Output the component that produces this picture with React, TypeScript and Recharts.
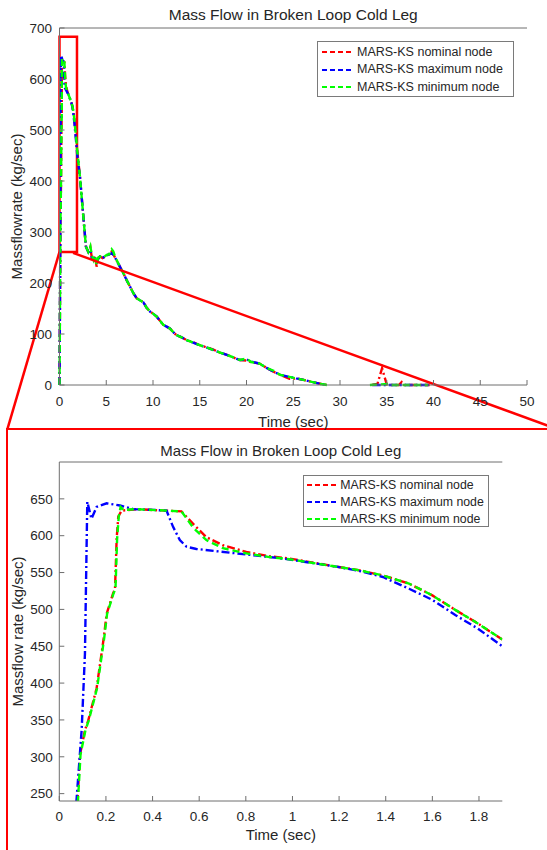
import React from 'react';
import { LineChart, Line, XAxis, YAxis, ReferenceArea, ReferenceLine, Legend } from 'recharts';

const FONT = '"Liberation Sans", Arial, Helvetica, sans-serif';
const AXIS_COLOR = '#6e6e6e';
const TEXT_COLOR = '#262626';
const TICK_LEN = 5;

// ---- series meta ----
const seriesNames = ['MARS-KS nominal node', 'MARS-KS maximum node', 'MARS-KS minimum node'];
const seriesColors = ['#FF0000', '#0000FF', '#00FF00'];
const seriesDash = ['8 3 2 3', '8 3 2 3', '7 4'];

// ---- zoomed window (0 - 1.9 s) ----
const zoomNominalT = [0, 0.078, 0.089, 0.11, 0.124, 0.16, 0.191, 0.203, 0.231, 0.239, 0.246, 0.253, 0.267, 0.331, 0.46, 0.524, 0.574, 0.631, 0.702, 0.802, 0.902, 0.988, 1.188, 1.288, 1.388, 1.5, 1.6, 1.7, 1.795, 1.9];
const zoomNominalV = [0, 240, 303, 336, 349, 393, 462, 494, 522, 528, 596, 626, 634, 636, 634, 633, 616, 598, 587, 578, 572, 569, 558, 553, 546, 535, 519, 499, 481, 459];

const zoomMaximumT = [0, 0.074, 0.096, 0.11, 0.12, 0.138, 0.16, 0.203, 0.26, 0.317, 0.403, 0.46, 0.488, 0.517, 0.546, 0.588, 0.674, 0.817, 0.96, 1.188, 1.288, 1.388, 1.5, 1.6, 1.7, 1.795, 1.9];
const zoomMaximumV = [0, 242, 337, 440, 646, 623, 639, 644, 641, 636, 635, 634, 612, 594, 585, 582, 579, 574, 569, 558, 552, 544, 528, 513, 492, 474, 450];

const zoomMinimumT = [0, 0.08, 0.091, 0.112, 0.126, 0.162, 0.193, 0.205, 0.233, 0.241, 0.248, 0.255, 0.263, 0.275, 0.331, 0.46, 0.524, 0.574, 0.631, 0.702, 0.802, 0.902, 0.988, 1.188, 1.288, 1.388, 1.5, 1.6, 1.7, 1.795, 1.9];
const zoomMinimumV = [0, 240, 303, 336, 349, 393, 462, 494, 522, 528, 596, 626, 639, 635, 636, 634, 633, 611, 594, 583, 576, 571, 568, 558, 553, 546, 535, 519, 499, 481, 459];

// ---- long transient (after 1.9 s) ----
const tailT = [2.19, 2.55, 2.83, 3.08, 3.3, 3.45, 3.65, 3.8, 3.97, 4.15, 4.33, 4.6, 5.05, 5.3, 5.58, 5.75, 5.94, 6.4, 6.83, 7.2, 7.54, 7.9, 8.26, 8.6, 8.97, 9.3, 9.68, 10.0, 10.4, 10.7, 11.1, 11.5, 11.8, 12.2, 12.5, 13.0, 13.6, 14.3, 15.0, 15.7, 16.4, 17.1, 17.9, 18.6, 19.3, 20.0, 20.5, 21.4, 22.2, 22.9, 23.6, 24.6, 25.3, 26.1, 27.0, 28.0, 28.6];
const tailNominalV = [408, 330, 271, 261, 270, 250, 245, 252, 232, 248, 252, 249, 254, 256, 262, 256, 250, 234, 219, 205, 193, 180, 170, 166, 163, 152, 144, 140, 134, 127, 118, 114, 111, 103, 98, 94, 88, 84, 78, 74, 70, 64, 59, 54, 49, 48, 45, 42, 33, 26, 20, 12, 13, 10, 6, 2, 0];
const tailMaximumV = [408, 330, 271, 261, 265, 250, 245, 252, 238, 248, 252, 249, 254, 256, 258, 256, 250, 234, 219, 205, 193, 180, 170, 166, 162, 152, 144, 140, 134, 127, 118, 114, 111, 103, 98, 94, 88, 83, 78, 74, 69, 64, 59, 54, 49, 50, 46, 42, 33, 26, 20, 16, 13, 10, 6, 2, 0];
const tailMinimumV = [408, 330, 271, 261, 272, 255, 245, 254, 236, 250, 252, 249, 255, 256, 266, 262, 252, 234, 219, 205, 193, 180, 170, 166, 162, 152, 144, 140, 134, 127, 118, 114, 111, 103, 98, 94, 88, 83, 78, 74, 69, 64, 59, 54, 49, 52, 45, 42, 33, 28, 20, 16, 13, 10, 6, 2, 0];

const lateNominalT = [30.5, 33.4, 34.0, 34.5, 35.0, 35.5, 36.3, 36.6, 36.9, 39.6];
const lateNominalV = [null, 0, 2, 33, 1, 0, 0, 6, 0, 0];
const lateMaximumT = [30.5, 33.5, 39.8];
const lateMaximumV = [null, 0, 0];
const lateMinimumT = [30.5, 33.2, 35.2, 35.5, 39.4];
const lateMinimumV = [null, 0, 2, 0, 0];

// ---- axes ----
const fullTicksX = [0, 5, 10, 15, 20, 25, 30, 35, 40, 45, 50];
const fullTicksY = [0, 100, 200, 300, 400, 500, 600, 700];
const zoomTicksX = [0, 0.2, 0.4, 0.6, 0.8, 1, 1.2, 1.4, 1.6, 1.8];
const zoomTicksY = [250, 300, 350, 400, 450, 500, 550, 600, 650];

type Row = { t: number; v: number | null };
const rows = (t: number[], v: (number | null)[]): Row[] => t.map((x, i) => ({ t: x, v: v[i] }));

const zoomData = [
  rows(zoomNominalT, zoomNominalV),
  rows(zoomMaximumT, zoomMaximumV),
  rows(zoomMinimumT, zoomMinimumV),
];
const fullData = [
  [...rows(zoomNominalT, zoomNominalV), ...rows(tailT, tailNominalV), ...rows(lateNominalT, lateNominalV)],
  [...rows(zoomMaximumT, zoomMaximumV), ...rows(tailT, tailMaximumV), ...rows(lateMaximumT, lateMaximumV)],
  [...rows(zoomMinimumT, zoomMinimumV), ...rows(tailT, tailMinimumV), ...rows(lateMinimumT, lateMinimumV)],
];

// ---- tick shapes (MATLAB style inward ticks) ----
const makeBottomTick = (gap: number, fs: number) => (props: any) => {
  const { x, y, payload } = props;
  const axisY = y - gap;
  return (
    <g>
      <line x1={x} x2={x} y1={axisY} y2={axisY - TICK_LEN} stroke={AXIS_COLOR} strokeWidth={1} />
      <text x={x} y={y} dy="0.35em" textAnchor="middle" fontSize={fs} fill={TEXT_COLOR} fontFamily={FONT}>
        {String(payload.value)}
      </text>
    </g>
  );
};
const makeLeftTick = (gap: number, fs: number) => (props: any) => {
  const { x, y, payload } = props;
  const axisX = x + gap;
  return (
    <g>
      <line x1={axisX} x2={axisX + TICK_LEN} y1={y} y2={y} stroke={AXIS_COLOR} strokeWidth={1} />
      <text x={x} y={y} dy="0.35em" textAnchor="end" fontSize={fs} fill={TEXT_COLOR} fontFamily={FONT}>
        {String(payload.value)}
      </text>
    </g>
  );
};
const topTick = (props: any) => (
  <line x1={props.x} x2={props.x} y1={props.y} y2={props.y + TICK_LEN} stroke={AXIS_COLOR} strokeWidth={1} />
);
const rightTick = (props: any) => (
  <line x1={props.x} x2={props.x - TICK_LEN} y1={props.y} y2={props.y} stroke={AXIS_COLOR} strokeWidth={1} />
);

// ---- labels ----
const titleLabel = (text: string, fs: number, up: number) => (p: any) => {
  const vb = p.viewBox || {};
  return (
    <text x={vb.x + vb.width / 2} y={vb.y + vb.height - up} dy="0.35em" textAnchor="middle" fontSize={fs} fill={TEXT_COLOR} fontFamily={FONT}>
      {text}
    </text>
  );
};
const xLabel = (text: string, fs: number, down: number) => (p: any) => {
  const vb = p.viewBox || {};
  return (
    <text x={vb.x + vb.width / 2} y={vb.y + down} dy="0.35em" textAnchor="middle" fontSize={fs} fill={TEXT_COLOR} fontFamily={FONT}>
      {text}
    </text>
  );
};
const yLabel = (text: string, fs: number, cx: number) => (p: any) => {
  const vb = p.viewBox || {};
  const cy = vb.y + vb.height / 2;
  return (
    <text x={cx} y={cy} dy="0.35em" transform={`rotate(-90 ${cx} ${cy})`} textAnchor="middle" fontSize={fs} fill={TEXT_COLOR} fontFamily={FONT}>
      {text}
    </text>
  );
};

// ---- legend box ----
const LegendBox = ({ fs, rowH, padTop, sampleW, sampleLeft, gap }: any) => (
  <div
    style={{
      border: '1px solid #7a7a7a',
      background: '#fff',
      boxSizing: 'border-box',
      width: '100%',
      height: '100%',
      paddingTop: padTop,
      paddingLeft: sampleLeft,
      fontFamily: FONT,
      fontSize: fs,
      color: TEXT_COLOR,
    }}
  >
    {seriesNames.map((n, i) => (
      <div key={n} style={{ display: 'flex', alignItems: 'center', height: rowH, whiteSpace: 'nowrap' }}>
        <svg width={sampleW} height={4} style={{ display: 'block', flex: 'none' }}>
          <line x1={0} x2={sampleW} y1={2} y2={2} stroke={seriesColors[i]} strokeWidth={2.2} strokeDasharray="5 3" />
        </svg>
        <span style={{ marginLeft: gap, lineHeight: `${rowH}px` }}>{n}</span>
      </div>
    ))}
  </div>
);

const TITLE = 'Mass Flow in Broken Loop Cold Leg';
const LINE_W = 2.4;

export default function App() {
  return (
    <div style={{ position: 'absolute', left: 0, top: 0, width: 547, height: 850, overflow: 'hidden', background: '#fff' }}>
      {/* zoom frame */}
      <div
        style={{
          position: 'absolute',
          left: 6,
          top: 428,
          width: 620,
          height: 500,
          border: '2.3px solid #FF0000',
          boxSizing: 'border-box',
        }}
      />
      {/* top chart */}
      <div style={{ position: 'absolute', left: 0, top: 0 }}>
        <LineChart width={547} height={430} margin={{ top: 8, right: 20, bottom: 0, left: 0 }}>
          <XAxis
            dataKey="t"
            type="number"
            domain={[0, 50]}
            ticks={fullTicksX}
            interval={0}
            height={45}
            tickSize={0}
            tickMargin={16.5}
            tickLine={false}
            tick={makeBottomTick(16.5, 13.5)}
            axisLine={{ stroke: AXIS_COLOR }}
            label={{ content: xLabel('Time (sec)', 15, 36.5) }}
          />
          <XAxis
            xAxisId="top"
            orientation="top"
            type="number"
            domain={[0, 50]}
            ticks={fullTicksX}
            interval={0}
            height={20}
            tickSize={0}
            tickMargin={0}
            tickLine={false}
            tick={topTick}
            axisLine={{ stroke: AXIS_COLOR }}
            label={{ content: titleLabel(TITLE, 15.5, 13) }}
          />
          <YAxis
            type="number"
            domain={[0, 700]}
            ticks={fullTicksY}
            interval={0}
            width={59.5}
            tickSize={0}
            tickMargin={7.5}
            tickLine={false}
            tick={makeLeftTick(7.5, 13.5)}
            axisLine={{ stroke: AXIS_COLOR }}
            label={{ content: yLabel('Massflowrate (kg/sec)', 15, 17) }}
          />
          <YAxis
            yAxisId="right"
            orientation="right"
            type="number"
            domain={[0, 700]}
            ticks={fullTicksY}
            interval={0}
            width={0}
            tickSize={0}
            tickMargin={0}
            tickLine={false}
            tick={rightTick}
            axisLine={{ stroke: AXIS_COLOR }}
          />
          {fullData.map((d, i) => (
            <Line
              key={seriesNames[i]}
              data={d}
              dataKey="v"
              name={seriesNames[i]}
              type="linear"
              stroke={seriesColors[i]}
              strokeWidth={LINE_W}
              strokeDasharray={seriesDash[i]}
              dot={false}
              activeDot={false}
              isAnimationActive={false}
            />
          ))}
          <ReferenceArea x1={0} x2={1.87} y1={261} y2={683} fill="none" fillOpacity={0} stroke="#FF0000" strokeWidth={2.5} ifOverflow="visible" />
          <ReferenceLine segment={[{ x: 0, y: 261 }, { x: -5.58, y: -86.9 }]} stroke="#FF0000" strokeWidth={2.5} ifOverflow="visible" />
          <ReferenceLine segment={[{ x: 1.45, y: 259 }, { x: 53.3, y: -86.9 }]} stroke="#FF0000" strokeWidth={2.5} ifOverflow="visible" />
          <Legend
            layout="vertical"
            align="center"
            verticalAlign="middle"
            wrapperStyle={{ left: 317, top: 41, width: 197, height: 56 }}
            content={() => <LegendBox fs={12.5} rowH={17.5} padTop={1.5} sampleW={32} sampleLeft={3.5} gap={3.5} />}
          />
        </LineChart>
      </div>
      {/* bottom (zoomed) chart */}
      <div style={{ position: 'absolute', left: 0, top: 430 }}>
        <LineChart width={547} height={420} margin={{ top: 12, right: 44.7, bottom: 0, left: 0 }}>
          <XAxis
            dataKey="t"
            type="number"
            domain={[0, 1.9]}
            ticks={zoomTicksX}
            interval={0}
            allowDataOverflow
            height={49}
            tickSize={0}
            tickMargin={15.7}
            tickLine={false}
            tick={makeBottomTick(15.7, 13.5)}
            axisLine={{ stroke: AXIS_COLOR }}
            label={{ content: xLabel('Time (sec)', 15, 34) }}
          />
          <XAxis
            xAxisId="top"
            orientation="top"
            type="number"
            domain={[0, 1.9]}
            ticks={zoomTicksX}
            interval={0}
            allowDataOverflow
            height={20}
            tickSize={0}
            tickMargin={0}
            tickLine={false}
            tick={topTick}
            axisLine={{ stroke: AXIS_COLOR }}
            label={{ content: titleLabel(TITLE, 15, 11) }}
          />
          <YAxis
            type="number"
            domain={[240, 700]}
            ticks={zoomTicksY}
            interval={0}
            allowDataOverflow
            width={59.3}
            tickSize={0}
            tickMargin={6.5}
            tickLine={false}
            tick={makeLeftTick(6.5, 13.5)}
            axisLine={{ stroke: AXIS_COLOR }}
            label={{ content: yLabel('Massflow rate (kg/sec)', 15, 18) }}
          />
          <YAxis
            yAxisId="right"
            orientation="right"
            type="number"
            domain={[240, 700]}
            ticks={zoomTicksY}
            interval={0}
            allowDataOverflow
            width={0}
            tickSize={0}
            tickMargin={0}
            tickLine={false}
            tick={rightTick}
            axisLine={{ stroke: AXIS_COLOR }}
          />
          {zoomData.map((d, i) => (
            <Line
              key={seriesNames[i]}
              data={d}
              dataKey="v"
              name={seriesNames[i]}
              type="linear"
              stroke={seriesColors[i]}
              strokeWidth={LINE_W}
              strokeDasharray={seriesDash[i]}
              dot={false}
              activeDot={false}
              isAnimationActive={false}
            />
          ))}
          <Legend
            layout="vertical"
            align="center"
            verticalAlign="middle"
            wrapperStyle={{ left: 303.3, top: 45, width: 186, height: 52 }}
            content={() => <LegendBox fs={12.3} rowH={17.2} padTop={0.5} sampleW={31} sampleLeft={2.5} gap={2.5} />}
          />
        </LineChart>
      </div>
    </div>
  );
}
